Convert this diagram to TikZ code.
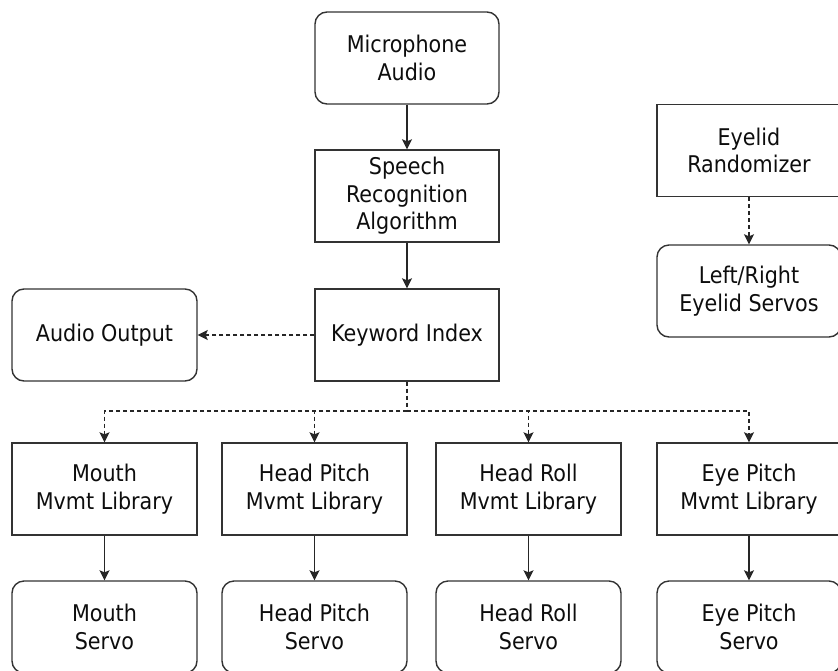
\documentclass[tikz,border=0pt]{standalone}
\usepackage{fontspec}
\setmainfont{DejaVu Sans Condensed}
\usetikzlibrary{arrows.meta}
\begin{document}
\begin{tikzpicture}[x=1pt,y=-1pt,
  every node/.style={font=\fontsize{23}{27.5}\selectfont, align=center, text=black!95},
  sqbox/.style={draw=black!80, line width=1.4pt, minimum width=184pt, minimum height=92pt, inner sep=0pt},
  rdbox/.style={sqbox, rounded corners=12pt},
  solidarr/.style={draw=black!85, line width=1.4pt, -{Stealth[length=10pt,width=10pt,inset=2pt]}},
  dasharr/.style={draw=black!85, line width=1.4pt, dash pattern=on 4pt off 3pt, -{Stealth[length=10pt,width=10pt,inset=2pt]}},
  dashln/.style={draw=black!85, line width=1.4pt, dash pattern=on 4pt off 3pt}]
\useasboundingbox (0,0) rectangle (838,670);
\clip (0,0) rectangle (838,670);
\node[rdbox] (mic) at (407,58) {Microphone\\Audio};
\node[sqbox] (sra) at (407,196) {Speech\\Recognition\\Algorithm};
\node[sqbox] (kw) at (407,335) {Keyword Index};
\node[rdbox, minimum width=185pt] (ao) at (104.5,335) {Audio Output};
\node[sqbox] (eyr) at (749,150.5) {Eyelid\\Randomizer};
\node[rdbox] (eys) at (749,291) {Left/Right\\Eyelid Servos};
\node[sqbox, minimum width=185pt] (ml) at (104.5,489) {Mouth\\Mvmt Library};
\node[sqbox, minimum width=185pt] (hpl) at (314.5,489) {Head Pitch\\Mvmt Library};
\node[sqbox, minimum width=185pt] (hrl) at (528.5,489) {Head Roll\\Mvmt Library};
\node[sqbox] (epl) at (749,489) {Eye Pitch\\Mvmt Library};
\node[rdbox, minimum width=185pt] (ms) at (104.5,627) {Mouth\\Servo};
\node[rdbox, minimum width=185pt] (hps) at (314.5,627) {Head Pitch\\Servo};
\node[rdbox, minimum width=185pt] (hrs) at (528.5,627) {Head Roll\\Servo};
\node[rdbox] (eps) at (749,627) {Eye Pitch\\Servo};
\coordinate (j) at (407,411);
\draw[solidarr] (mic) -- (sra);
\draw[solidarr] (sra) -- (kw);
\draw[dasharr] (kw) -- (ao);
\draw[dasharr] (eyr) -- (eys);
\draw[dashln] (kw) -- (j);
\draw[dasharr] (j) -| (ml.north);
\draw[dasharr] (j) -| (hpl.north);
\draw[dasharr] (j) -| (hrl.north);
\draw[dasharr] (j) -| (epl.north);
\draw[solidarr] (ml) -- (ms);
\draw[solidarr] (hpl) -- (hps);
\draw[solidarr] (hrl) -- (hrs);
\draw[solidarr] (epl) -- (eps);
\end{tikzpicture}
\end{document}
